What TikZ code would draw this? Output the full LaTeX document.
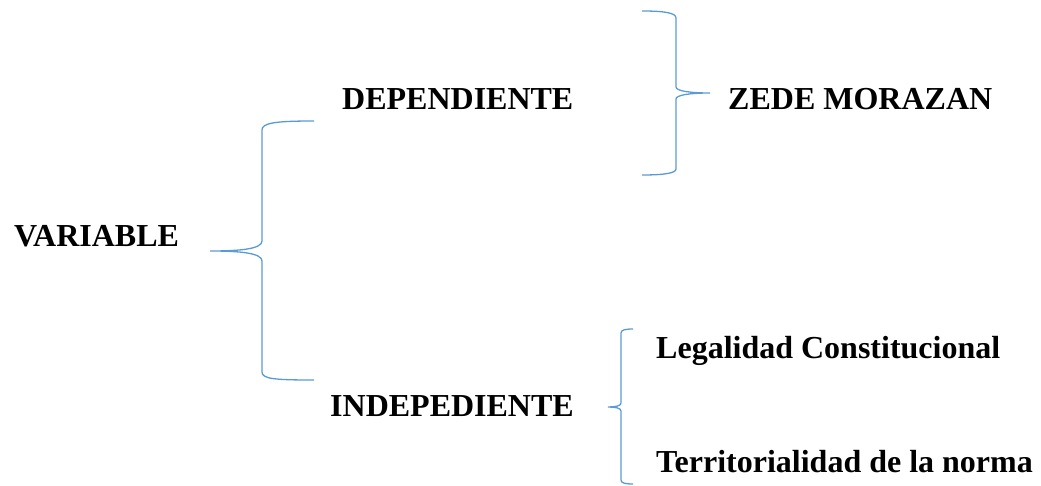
\documentclass[tikz,border=0pt]{standalone}
\usepackage{fontspec}
\setmainfont{Liberation Serif}
\definecolor{bracecol}{RGB}{91,155,213}
\begin{document}
\begin{tikzpicture}[x=1pt,y=-1pt,
  lbl/.style={font=\fontsize{32}{36}\selectfont\bfseries, inner sep=0pt, anchor=base west},
  brace/.style={draw=bracecol, line width=1.3pt}]
\useasboundingbox (0,0) rectangle (1041,486);
\node[lbl] (var) at (14,247) {VARIABLE};
\node[lbl] (dep) at (342,110) {DEPENDIENTE};
\node[lbl] (zede) at (728,110) {ZEDE MORAZAN};
\node[lbl] (ind) at (330,416) {INDEPEDIENTE};
\node[lbl] (leg) at (656,358) {Legalidad Constitucional};
\node[lbl] (ter) at (656,472) {Territorialidad de la norma};
% brace 1
\coordinate (b1t) at (314,121);
\coordinate (b1m) at (210,251);
\coordinate (b1b) at (314,380);
\draw[brace] (b1t) .. controls (275,121) and (262,123) .. (262,130)
  -- (262,241) .. controls (262,249) and (240,251) .. (b1m)
  .. controls (240,251) and (262,253) .. (262,261)
  -- (262,372) .. controls (262,379) and (275,380) .. (b1b);
% brace 2
\coordinate (b2t) at (642,11);
\coordinate (b2m) at (710,93);
\coordinate (b2b) at (642,175);
\draw[brace] (b2t) .. controls (665,11) and (676,13) .. (676,18)
  -- (676,87) .. controls (676,91) and (690,93) .. (b2m)
  .. controls (690,93) and (676,95) .. (676,99)
  -- (676,169) .. controls (676,173) and (665,175) .. (b2b);
% brace 3
\coordinate (b3t) at (633,329);
\coordinate (b3m) at (608,407);
\coordinate (b3b) at (633,484);
\draw[brace] (b3t) .. controls (625,329) and (621,330) .. (621,333)
  -- (621,403) .. controls (621,406) and (615,407) .. (b3m)
  .. controls (615,407) and (621,408) .. (621,411)
  -- (621,480) .. controls (621,483) and (625,484) .. (b3b);
\end{tikzpicture}
\end{document}
